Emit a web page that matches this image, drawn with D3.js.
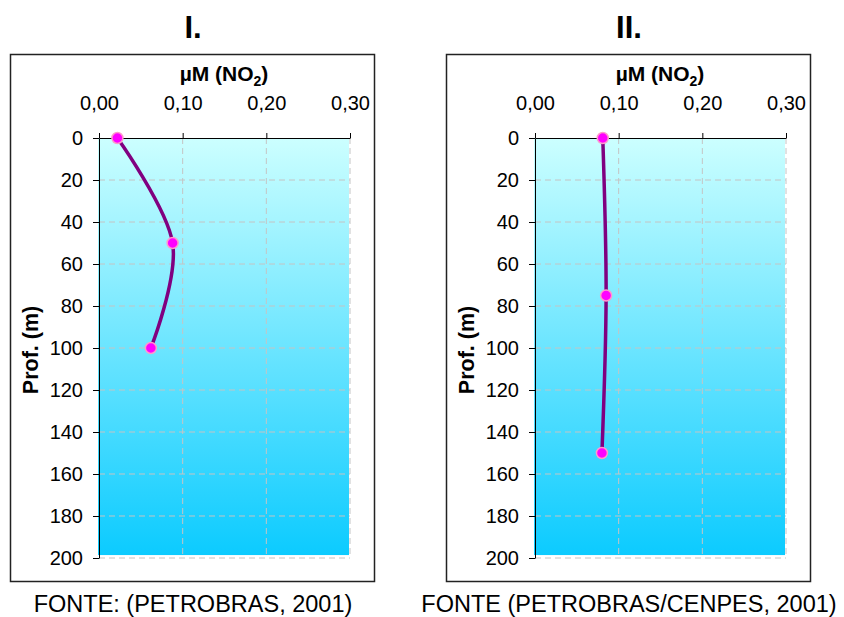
<!DOCTYPE html>
<html>
<head>
<meta charset="utf-8">
<script src="https://cdn.jsdelivr.net/npm/d3@7"></script>
<style>
  body { margin: 0; background: #fff; }
  text { font-family: "Liberation Sans", Arial, sans-serif; fill: #000; }
</style>
</head>
<body>
<svg id="chart" width="844" height="617"></svg>
<script>
// data
const depthI = [0, 50, 100];
const no2I = [0.022, 0.088, 0.062];
const depthII = [0, 75, 150];
const no2II = [0.081, 0.085, 0.080];

const panelTitles = ["I.", "II."];
const captions = ["FONTE: (PETROBRAS, 2001)", "FONTE (PETROBRAS/CENPES, 2001)"];
const xTicks = [0, 0.1, 0.2, 0.3];
const xTickLabels = ["0,00", "0,10", "0,20", "0,30"];
const yTicks = [0, 20, 40, 60, 80, 100, 120, 140, 160, 180, 200];

const svg = d3.select("#chart");

// gradient for the plot area (light cyan -> sky blue)
const grad = svg.append("defs").append("linearGradient")
  .attr("id", "sea")
  .attr("x1", 0).attr("y1", 0).attr("x2", 0).attr("y2", 1);
grad.append("stop").attr("offset", "0%").attr("stop-color", "#ccffff");
grad.append("stop").attr("offset", "100%").attr("stop-color", "#0ccbff");

const plotW = 251;
const plotTop = 138;
const plotH = 420;

const panels = [
  { ox: 0, depth: depthI, no2: no2I },
  { ox: 436, depth: depthII, no2: no2II }
];

panels.forEach((p, i) => {
  const left = 99 + p.ox;
  const g = svg.append("g");

  const x = d3.scaleLinear().domain([0, 0.3]).range([left, left + plotW]);
  const y = d3.scaleLinear().domain([0, 200]).range([plotTop, plotTop + plotH]);

  // outer frame
  g.append("rect")
    .attr("x", 10.5 + p.ox).attr("y", 54.5)
    .attr("width", 364).attr("height", 527)
    .attr("fill", "none").attr("stroke", "#222").attr("stroke-width", 1.5);

  // title
  g.append("text")
    .attr("x", 193 + p.ox).attr("y", 38)
    .attr("text-anchor", "middle")
    .style("font-size", "31px").style("font-weight", "bold")
    .text(panelTitles[i]);

  // plot area fill
  g.append("rect")
    .attr("x", x(0) - 1).attr("y", y(0))
    .attr("width", x(0.3) - x(0)).attr("height", y(198.6) - y(0))
    .attr("fill", "url(#sea)");

  // grid
  g.selectAll(".hgrid").data(yTicks.slice(1)).enter()
    .append("line")
    .attr("x1", x(0)).attr("x2", x(0.3))
    .attr("y1", d => y(d)).attr("y2", d => y(d))
    .attr("stroke", "#c4c4c4").attr("stroke-dasharray", "6,4");
  g.selectAll(".vgrid").data(xTicks.slice(1)).enter()
    .append("line")
    .attr("x1", d => x(d)).attr("x2", d => x(d))
    .attr("y1", y(0)).attr("y2", y(200))
    .attr("stroke", "#c4c4c4").attr("stroke-dasharray", "6,4");

  // axes
  const xAxis = d3.axisTop(x)
    .tickValues(xTicks)
    .tickFormat((d, k) => xTickLabels[k])
    .tickSizeInner(5).tickSizeOuter(0).tickPadding(23);
  const xg = g.append("g")
    .attr("transform", `translate(0,${y(0)})`)
    .call(xAxis);
  xg.selectAll("text").style("font-size", "20px");

  const yAxis = d3.axisLeft(y)
    .tickValues(yTicks)
    .tickSizeInner(6).tickSizeOuter(0).tickPadding(10);
  const yg = g.append("g")
    .attr("transform", `translate(${x(0)},0)`)
    .call(yAxis);
  yg.selectAll("text").style("font-size", "20px");
  g.selectAll(".domain, .tick line").attr("stroke", "#000");

  // axis titles
  const xt = g.append("text")
    .attr("x", 224 + p.ox).attr("y", 81)
    .attr("text-anchor", "middle")
    .style("font-size", "21px").style("font-weight", "bold");
  xt.append("tspan").text("µM  (NO");
  xt.append("tspan").attr("dy", 5).style("font-size", "14px").text("2");
  xt.append("tspan").attr("dy", -5).text(")");

  g.append("text")
    .attr("transform", `translate(${38 + p.ox},350) rotate(-90)`)
    .attr("text-anchor", "middle")
    .style("font-size", "21.5px").style("font-weight", "bold")
    .text("Prof. (m)");

  // profile line
  const pts = p.depth.map((d, k) => ({ depth: d, v: p.no2[k] }));
  const line = d3.line()
    .curve(d3.curveCardinal.tension(0))
    .x(d => x(d.v))
    .y(d => y(d.depth));
  g.append("path")
    .datum(pts)
    .attr("d", line)
    .attr("fill", "none")
    .attr("stroke", "#800080")
    .attr("stroke-width", 3.5);

  g.selectAll(".pt").data(pts).enter()
    .append("circle")
    .attr("cx", d => x(d.v))
    .attr("cy", d => y(d.depth))
    .attr("r", 5.5)
    .attr("fill", "#ff00ff")
    .attr("stroke", "#ff99cc")
    .attr("stroke-width", 1.5);

  // source caption
  g.append("text")
    .attr("x", 193 + p.ox).attr("y", 612)
    .attr("text-anchor", "middle")
    .style("font-size", "23.5px")
    .text(captions[i]);
});
</script>
</body>
</html>
